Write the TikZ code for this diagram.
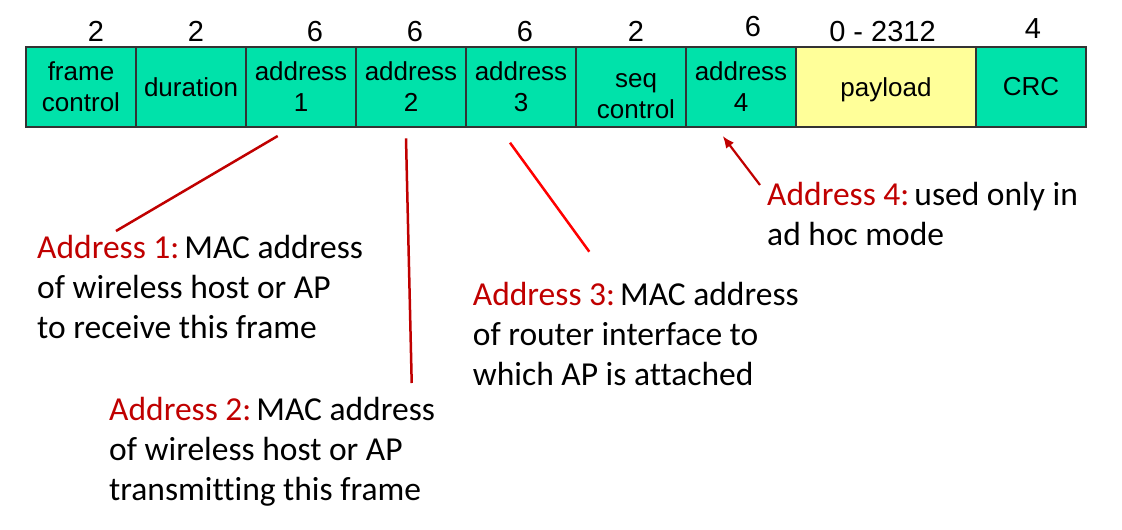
\documentclass[tikz,border=0pt]{standalone}
\usepackage{fontspec}
\setmainfont{Carlito}[Ligatures=NoCommon]
\newfontfamily\arialfont{Liberation Sans}
\usetikzlibrary{arrows.meta}
\definecolor{cellgreen}{RGB}{0,226,170}
\definecolor{payyellow}{RGB}{255,255,153}
\definecolor{cellborder}{RGB}{51,51,51}
\definecolor{darkred}{RGB}{192,0,0}
\definecolor{brightred}{RGB}{255,0,0}
\newcommand{\tag}[1]{{\color{darkred}#1}\kern5pt}
\begin{document}
\begin{tikzpicture}[x=1pt,y=-1pt,
  cellfont/.style={font=\arialfont\fontsize{26}{31}\selectfont},
  cell/.style={draw=cellborder, line width=1.5pt, fill=cellgreen, minimum height=80pt,
    minimum width=110pt, inner sep=0pt, align=center, cellfont},
  yellowcell/.style={cell, fill=payyellow, minimum width=180pt, text depth=0pt},
  celltext/.style={inner sep=0pt, align=center, cellfont},
  sizelabel/.style={anchor=base, inner sep=0pt, font=\arialfont\fontsize{29}{34}\selectfont},
  note/.style={anchor=base west, inner sep=0pt, align=left, font=\fontsize{33.5}{40}\selectfont},
  redline/.style={darkred, line width=2.5pt},
  brightline/.style={brightred, line width=2.5pt}]
\useasboundingbox[fill=white] (0,0) rectangle (1122,530);
% frame cells
\node[cell] (fc) at (81,87) {frame\\control};
\node[cell] (du) at (191,87) {duration};
\node[cell] (ad1) at (301,87) {address\\1};
\node[cell] (ad2) at (411,87) {address\\2};
\node[cell] (ad3) at (521,87) {address\\3};
\node[cell] (sc) at (631,87) {};
\node[celltext] (sct) at (636,94) {\rule{0pt}{18pt}seq\\control};
\node[cell] (ad4) at (741,87) {address\\4};
\node[yellowcell] (pl) at (886,87) {payload};
\node[cell] (crc) at (1031,87) {CRC};
% field sizes
\node[sizelabel] (n1) at (96,41.7) {2};
\node[sizelabel] (n2) at (196,41.7) {2};
\node[sizelabel] (n3) at (315,41.7) {6};
\node[sizelabel] (n4) at (415,41.7) {6};
\node[sizelabel] (n5) at (525,41.7) {6};
\node[sizelabel] (n6) at (636,41.7) {2};
\node[sizelabel] (n7) at (753,36.7) {6};
\node[sizelabel] (n8) at (882.5,41.7) {0 - 2312};
\node[sizelabel] (n9) at (1033,38) {4};
% notes (base anchor = baseline of last line)
\node[note] (t1) at (37,338) {\tag{Address 1:}MAC address\\of wireless host or AP\\to receive this frame};
\node[note] (t2) at (109,500) {\tag{Address 2:}MAC address\\of wireless host or AP\\transmitting this frame};
\node[note] (t3) at (472.7,385) {\tag{Address 3:}MAC address\\of router interface to\\which AP is attached};
\node[note] (t4) at (767,245) {\tag{Address 4:}used only in\\ad hoc mode};
% connectors
\coordinate (l1s) at (277.7,136);
\coordinate (l1e) at (116,231);
\coordinate (l2s) at (406,138.3);
\coordinate (l2e) at (411.7,383);
\coordinate (l3s) at (510,142.7);
\coordinate (l3e) at (589.3,251.7);
\coordinate (l4s) at (760,185);
\coordinate (l4e) at (722.7,136);
\draw[redline] (l1s) -- (l1e);
\draw[redline] (l2s) -- (l2e);
\draw[brightline] (l3s) -- (l3e);
\draw[darkred, line width=2.2pt, -{Latex[length=12pt,width=10pt]}] (l4s) -- (l4e);
\end{tikzpicture}
\end{document}
